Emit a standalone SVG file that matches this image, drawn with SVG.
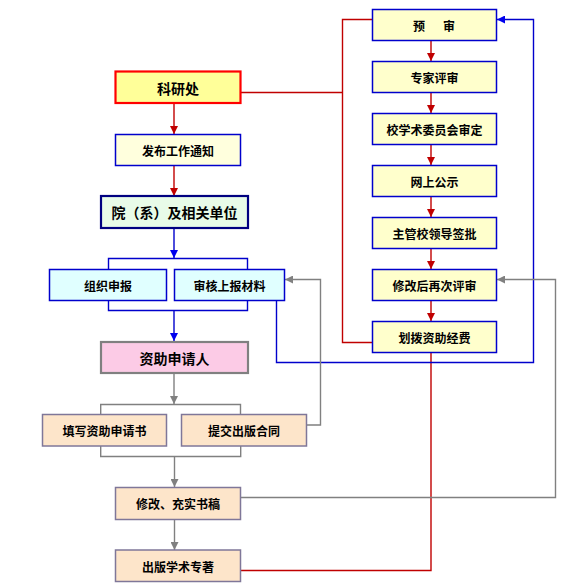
<svg xmlns="http://www.w3.org/2000/svg" width="572" height="588" viewBox="0 0 572 588">
<style>
text{font-family:"Noto Sans CJK SC","Noto Sans CJK JP",sans-serif;font-weight:bold;text-anchor:middle;dominant-baseline:central;fill:#000}
.s{font-size:12px}
.m{font-size:14px}
.ry{fill:#ffffcc;stroke:#0000cc;stroke-width:1.5}
.cy{fill:#e0ffff;stroke:#0000cc;stroke-width:1.5}
.pe{fill:#fde5ca;stroke:#7f7799;stroke-width:1.5}
.red{fill:none;stroke:#c00000;stroke-width:1.4}
.blue{fill:none;stroke:#0000cc;stroke-width:1.4}
.gray{fill:none;stroke:#808080;stroke-width:1.4}
</style>
<defs>
<marker id="ar" markerWidth="8" markerHeight="8" refX="8" refY="4" orient="auto" markerUnits="userSpaceOnUse"><path d="M0,0 L8,4 L0,8 z" fill="#c00000"/></marker>
<marker id="ab" markerWidth="8" markerHeight="8" refX="8" refY="4" orient="auto" markerUnits="userSpaceOnUse"><path d="M0,0 L8,4 L0,8 z" fill="#0000ee"/></marker>
<marker id="ag" markerWidth="8" markerHeight="8" refX="8" refY="4" orient="auto" markerUnits="userSpaceOnUse"><path d="M0,0 L8,4 L0,8 z" fill="#808080"/></marker>
</defs>
<rect width="572" height="588" fill="#fff"/>
<g id="connectors">
<path class="red" d="M174,103 V134" marker-end="url(#ar)"/>
<path class="red" d="M174,166 V196" marker-end="url(#ar)"/>
<path class="red" d="M431,40.5 V61" marker-end="url(#ar)"/>
<path class="red" d="M431,92.5 V113" marker-end="url(#ar)"/>
<path class="red" d="M431,144.5 V165" marker-end="url(#ar)"/>
<path class="red" d="M431,196.5 V217" marker-end="url(#ar)"/>
<path class="red" d="M431,248.5 V269" marker-end="url(#ar)"/>
<path class="red" d="M431,300.5 V321" marker-end="url(#ar)"/>
<path class="red" d="M241,92.5 H342.5"/>
<path class="red" d="M372,19.5 H342.5 V342.5 H372"/>
<path class="red" d="M431,352.5 V570.5 H221" marker-end="url(#ar)"/>
<path class="blue" d="M174,228 V258" marker-end="url(#ab)"/>
<path class="blue" d="M108.5,269 V258.5 H247.5 V269"/>
<path class="blue" d="M108.5,301 V310.5 H247.5 V301"/>
<path class="blue" d="M174,310.5 V341" marker-end="url(#ab)"/>
<path class="blue" d="M276.5,301 V362.5 H533.5 V19.5 H497" marker-end="url(#ab)"/>
<path class="gray" d="M174,374 V404" marker-end="url(#ag)"/>
<path class="gray" d="M100.7,414 V404.5 H240.5 V414"/>
<path class="gray" d="M100.7,446 V456.5 H240.7 V446"/>
<path class="gray" d="M174.5,456.5 V487" marker-end="url(#ag)"/>
<path class="gray" d="M174.5,519.5 V550" marker-end="url(#ag)"/>
<path class="gray" d="M306.5,425 H320.5 V279.5 H285" marker-end="url(#ag)"/>
<path class="gray" d="M241,497.5 H555.5 V279.5 H497" marker-end="url(#ag)"/>
</g>
<g id="n_kyc"><rect x="115.5" y="71.5" width="125" height="31.5" fill="#ffff99" stroke="#ff0000" stroke-width="2.2"/><text class="m" x="178" y="87.5">科研处</text></g>
<g id="n_fbtz"><rect x="115.5" y="134.5" width="125" height="31" fill="#ffffdd" stroke="#0000cc" stroke-width="1.5"/><text class="s" x="178" y="150">发布工作通知</text></g>
<g id="n_yx"><rect x="101" y="196" width="147" height="32" fill="#e8fbe8" stroke="#000080" stroke-width="2.2"/><text class="m" x="174.5" y="212">院（系）及相关单位</text></g>
<g id="n_zzsb"><rect class="cy" x="49.5" y="269.5" width="117" height="31"/><text class="s" x="108" y="285">组织申报</text></g>
<g id="n_shsb"><rect class="cy" x="174.5" y="269.5" width="110" height="31"/><text class="s" x="229.5" y="285">审核上报材料</text></g>
<g id="n_zzsqr"><rect x="101" y="342" width="147" height="31" fill="#fccbe6" stroke="#808080" stroke-width="2.2"/><text class="m" x="174.5" y="357.5">资助申请人</text></g>
<g id="n_txsqs"><rect class="pe" x="42.5" y="414.5" width="124" height="31.5"/><text class="s" x="104.5" y="430">填写资助申请书</text></g>
<g id="n_tjht"><rect class="pe" x="181.5" y="414.5" width="125" height="31.5"/><text class="s" x="244" y="430">提交出版合同</text></g>
<g id="n_xgsg"><rect class="pe" x="115.5" y="487.5" width="125" height="32"/><text class="s" x="178" y="503.5">修改、充实书稿</text></g>
<g id="n_cbzz"><rect class="pe" x="115.5" y="550" width="125" height="31.5"/><text class="s" x="178" y="566">出版学术专著</text></g>
<g id="n_ys"><rect class="ry" x="372.5" y="9.5" width="124" height="31"/><text class="s"><tspan x="419" y="25">预</tspan><tspan x="449" y="25">审</tspan></text></g>
<g id="n_zjps"><rect class="ry" x="372.5" y="61.5" width="124" height="31"/><text class="s" x="434.5" y="77">专家评审</text></g>
<g id="n_xsw"><rect class="ry" x="372.5" y="113.5" width="124" height="31"/><text class="s" x="434.5" y="129">校学术委员会审定</text></g>
<g id="n_wsgs"><rect class="ry" x="372.5" y="165.5" width="124" height="31"/><text class="s" x="434.5" y="181">网上公示</text></g>
<g id="n_zgld"><rect class="ry" x="372.5" y="217.5" width="124" height="31"/><text class="s" x="434.5" y="233">主管校领导签批</text></g>
<g id="n_xghzc"><rect class="ry" x="372.5" y="269.5" width="124" height="31"/><text class="s" x="434.5" y="285">修改后再次评审</text></g>
<g id="n_hbjf"><rect class="ry" x="372.5" y="321.5" width="124" height="31"/><text class="s" x="434.5" y="337">划拨资助经费</text></g>
</svg>
